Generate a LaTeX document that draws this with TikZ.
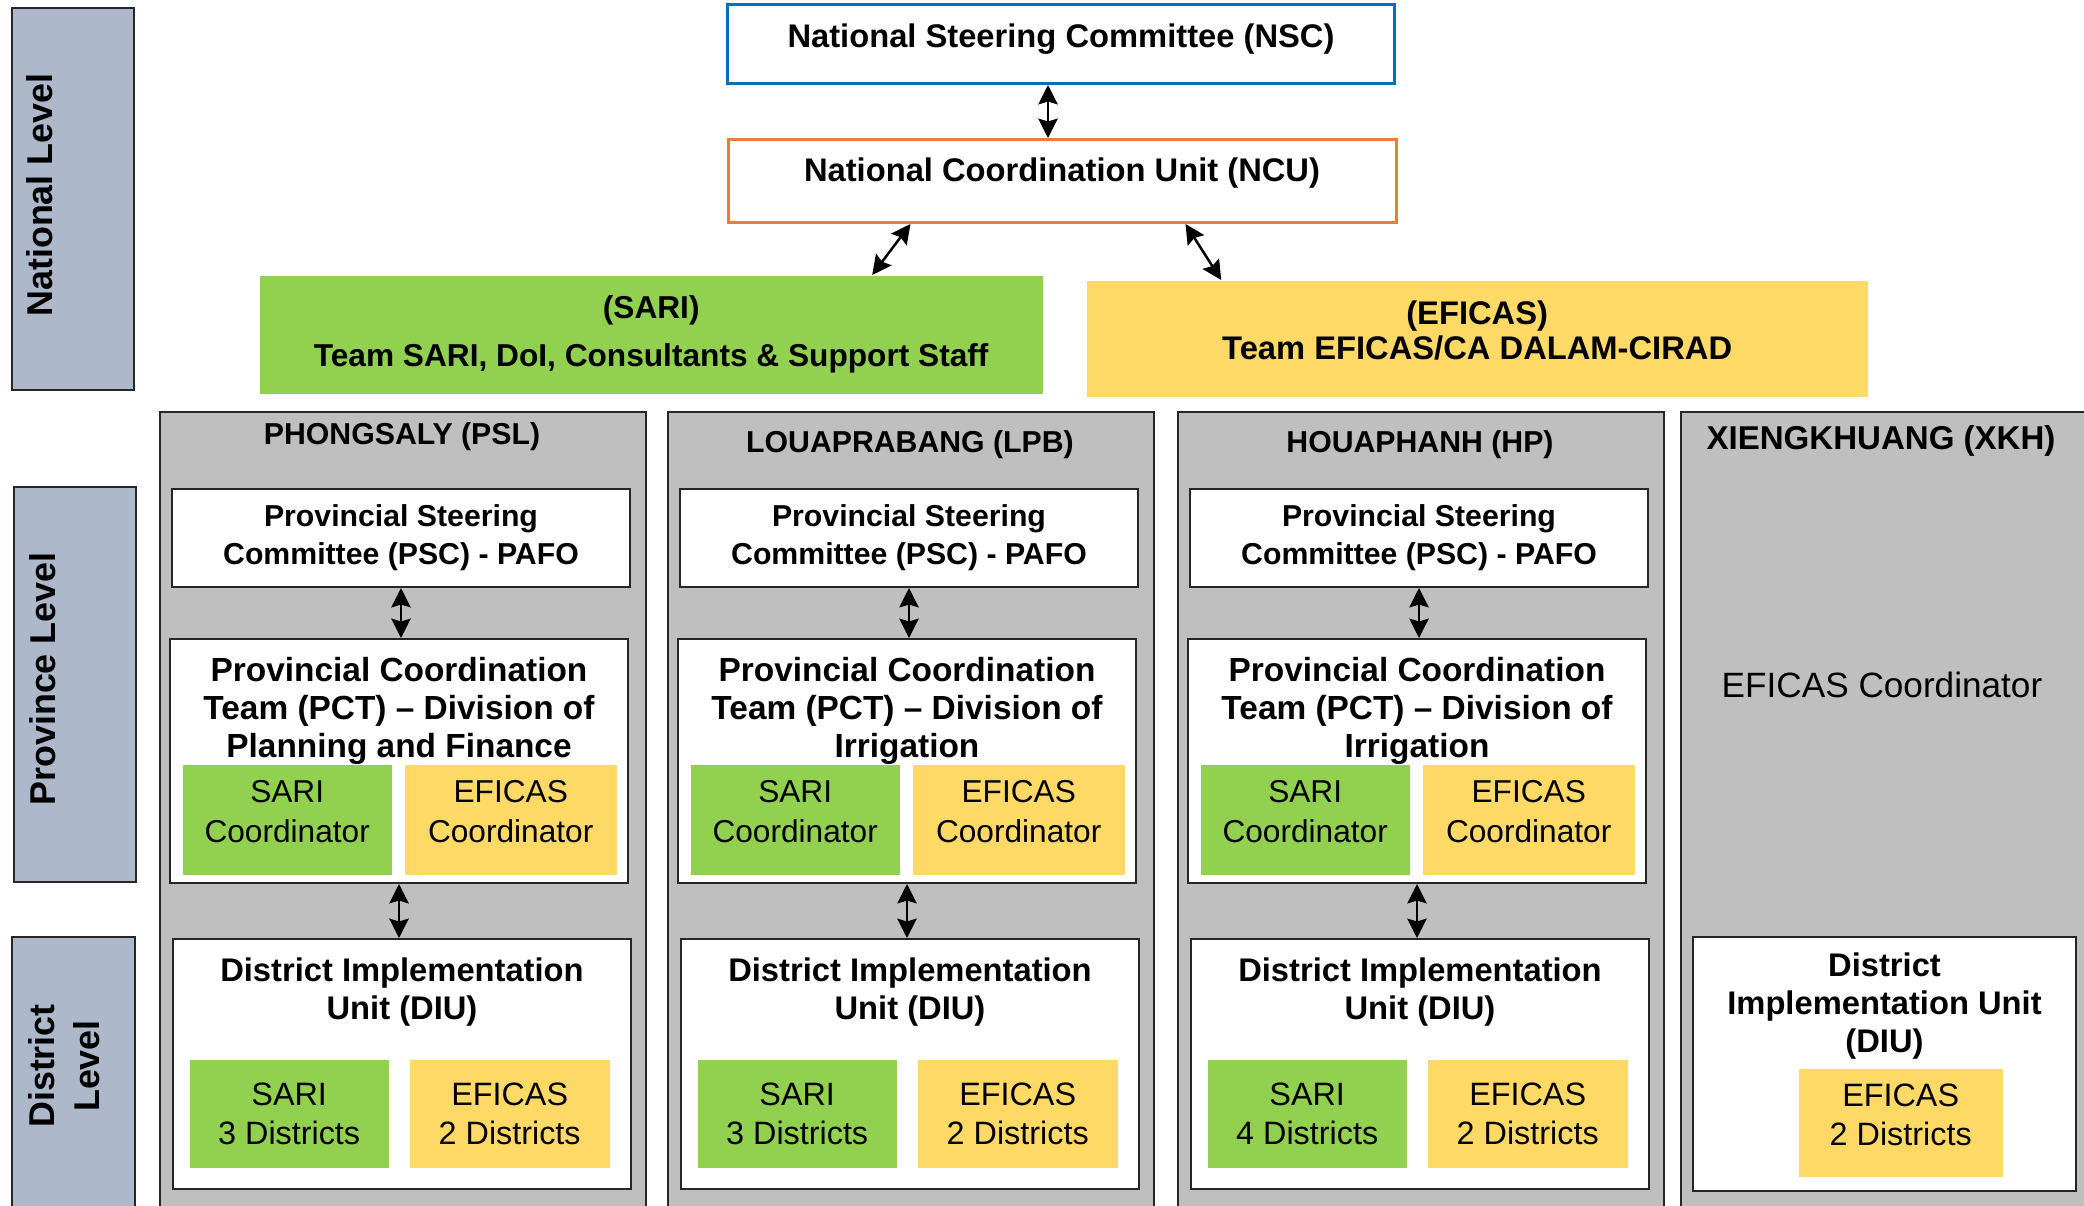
\documentclass[tikz,border=0pt]{standalone}
\usepackage{fontspec}
\setmainfont{Liberation Sans}
\usepackage{xcolor}
\usetikzlibrary{positioning,arrows.meta}
\definecolor{lvlblue}{HTML}{ADB9CA}
\definecolor{colgray}{HTML}{BFBFBF}
\definecolor{sarigreen}{HTML}{92D050}
\definecolor{eficasyellow}{HTML}{FFD966}
\definecolor{nscblue}{HTML}{0070C0}
\definecolor{ncuorange}{HTML}{ED7D31}
\newlength{\px}
\setlength{\px}{0.01cm}
\newcommand{\fs}[2]{\fontsize{#1}{#2}\selectfont}

\begin{document}
\begin{tikzpicture}[
  x=0.01cm, y=-0.01cm,
  every node/.style={inner sep=0pt, align=center},
  lvlbox/.style={draw=black!85, line width=2\px, fill=lvlblue, anchor=north west},
  lvltext/.style={rotate=90, font=\fs{10.2}{12.8}\bfseries},
  colbox/.style={draw=black!85, line width=2\px, fill=colgray, anchor=north west},
  whitebox/.style={draw=black!85, line width=2\px, fill=white, anchor=north west},
  sarifill/.style={fill=sarigreen, anchor=north west},
  eficasfill/.style={fill=eficasyellow, anchor=north west},
  nattext/.style={font=\fs{9.3}{11}\bfseries},
  teamtext/.style={font=\fs{9}{13.6}\bfseries},
  coltitle/.style={font=\fs{8.6}{10}\bfseries},
  psctext/.style={font=\fs{8.6}{10.8}\bfseries},
  pcttext/.style={font=\fs{9.5}{10.7}\bfseries},
  diutext/.style={font=\fs{9.3}{10.8}\bfseries},
  coordtext/.style={font=\fs{9}{11.4}, text depth=4.9pt},
  disttext/.style={font=\fs{9.2}{11}},
  biarrow/.style={{Stealth[length=5.5pt,width=5.5pt,inset=0.8pt]}-{Stealth[length=5.5pt,width=5.5pt,inset=0.8pt]}, line width=2.5\px},
]
\useasboundingbox (0,0) rectangle (2084,1206);
\clip (0,0) rectangle (2084,1206);

% ---------------- level labels ----------------
\node[lvlbox, minimum width=122\px, minimum height=382\px] (natlvl) at (11,7) {};
\node[lvltext] (natlvltxt) at (40,195) {National Level};
\node[lvlbox, minimum width=122\px, minimum height=395\px] (provlvl) at (13,486) {};
\node[lvltext] (provlvltxt) at (43,679) {Province Level};
\node[lvlbox, minimum width=123\px, minimum height=400\px] (distlvl) at (11,936) {};
\node[lvltext] (distlvltxt) at (64,1066) {District\\Level};

% ---------------- national level ----------------
\node[anchor=north west, draw=nscblue, line width=3\px, fill=white, minimum width=667\px, minimum height=79\px] (nsc) at (726,3) {};
\node[nattext] (nsctxt) at (1061,39) {National Steering Committee (NSC)};
\node[anchor=north west, draw=ncuorange, line width=3\px, fill=white, minimum width=668\px, minimum height=83\px] (ncu) at (727,138) {};
\node[nattext] (ncutxt) at (1062,173) {National Coordination Unit (NCU)};

\node[sarifill, teamtext, minimum width=783\px, minimum height=118\px] (natsari) at (259,275)
  {(SARI)\\Team SARI, DoI, Consultants \& Support Staff};
\node[eficasfill, nattext, font=\fs{9.3}{10}\bfseries, text depth=5.1pt, minimum width=781\px, minimum height=116\px] (nateficas) at (1086,280)
  {(EFICAS)\\Team EFICAS/CA DALAM-CIRAD};

\draw[biarrow] ([xshift=-13\px]nsc.south) -- ([xshift=-13\px]nsc.south |- ncu.north);
\draw[biarrow] ([xshift=-152\px]ncu.south) -- ([xshift=221\px]natsari.north);
\draw[biarrow] ([xshift=123\px]ncu.south) -- ([xshift=-256\px]nateficas.north);

% ---------------- provinces with both projects ----------------
\foreach \L/\ty/\pid/\ptitle/\pctdiv/\nsari in {
  159/437/psl/{PHONGSALY (PSL)}/{Planning and Finance}/3,
  667/445/lpb/{LOUAPRABANG (LPB)}/{Irrigation}/3,
  1177/445/hp/{HOUAPHANH (HP)}/{Irrigation}/4}{
  \node[colbox, minimum width=486\px, minimum height=900\px] (col\pid) at (\L,411) {};
  \node[coltitle] (title\pid) at (\L+243,\ty) {\ptitle};
  \node[whitebox, psctext, minimum width=458\px, minimum height=98\px] (psc\pid) at (\L+12,488)
    {Provincial Steering\\Committee (PSC) - PAFO};
  \node[whitebox, minimum width=458\px, minimum height=244\px] (pct\pid) at (\L+10,638) {};
  \node[pcttext, below=19\px of pct\pid.north] (pcttitle\pid)
    {Provincial Coordination\\Team (PCT) -- Division of\\\pctdiv};
  \node[sarifill, coordtext, minimum width=209\px, minimum height=110\px] (sarico\pid) at (\L+23,764) {SARI\\Coordinator};
  \node[eficasfill, coordtext, minimum width=212\px, minimum height=110\px] (eficasco\pid) at (\L+245,764) {EFICAS\\Coordinator};
  \node[whitebox, minimum width=458\px, minimum height=250\px] (diu\pid) at (\L+13,938) {};
  \node[diutext, below=19\px of diu\pid.north] (diutitle\pid) {District Implementation\\Unit (DIU)};
  \node[sarifill, disttext, minimum width=199\px, minimum height=108\px] (saridist\pid) at (\L+30,1059) {SARI\\\nsari{} Districts};
  \node[eficasfill, disttext, minimum width=200\px, minimum height=108\px] (eficasdist\pid) at (\L+250,1059) {EFICAS\\2 Districts};
  \draw[biarrow] (psc\pid.south) -- (psc\pid.south |- pct\pid.north);
  \draw[biarrow] (pct\pid.south) -- (pct\pid.south |- diu\pid.north);
}

% ---------------- XKH: EFICAS only ----------------
\node[colbox, minimum width=500\px, minimum height=900\px] (colxkh) at (1680,411) {};
\node[coltitle, font=\fs{9.4}{11}\bfseries] (titlexkh) at (1881,441) {XIENGKHUANG (XKH)};
\node[font=\fs{10}{12}] (eficascoxkh) at (1882,685) {EFICAS Coordinator};
\node[whitebox, minimum width=383\px, minimum height=254\px] (diuxkh) at (1692,936) {};
\node[diutext, below=16\px of diuxkh.north] (diutitlexkh) {District\\Implementation Unit\\(DIU)};
\node[eficasfill, disttext, text depth=4.5pt, minimum width=204\px, minimum height=108\px] (eficasdistxkh) at (1798,1068) {EFICAS\\2 Districts};
\end{tikzpicture}
\end{document}
